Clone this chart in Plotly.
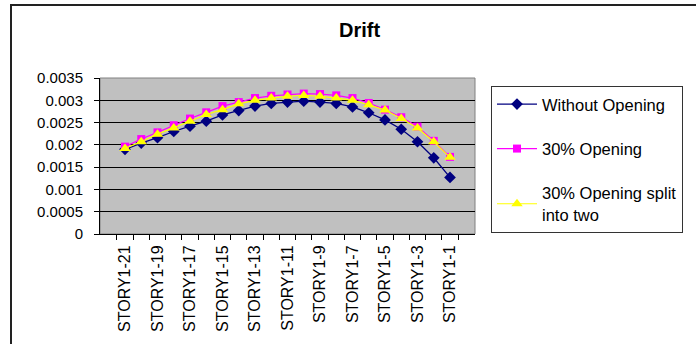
import plotly.graph_objects as go

categories = ["STORY1-%d" % n for n in range(21, 0, -1)]
tick_labels = [c if i % 2 == 0 else "" for i, c in enumerate(categories)]

without_opening = [0.00190, 0.00204, 0.00216, 0.00230, 0.00242, 0.00253, 0.00267,
                   0.00277, 0.00287, 0.00293, 0.00296, 0.00298, 0.00296, 0.00293,
                   0.00285, 0.00272, 0.00256, 0.00235, 0.00207, 0.00171, 0.00127]
opening_30 = [0.00196, 0.00213, 0.00228, 0.00244, 0.00259, 0.00273, 0.00287,
              0.00296, 0.00305, 0.00310, 0.00313, 0.00315, 0.00314, 0.00311,
              0.00305, 0.00294, 0.00279, 0.00262, 0.00241, 0.00209, 0.00173]
opening_30_split = [0.00192, 0.00207, 0.00224, 0.00238, 0.00253, 0.00268, 0.00279,
                    0.00292, 0.00300, 0.00305, 0.00309, 0.00311, 0.00309, 0.00305,
                    0.00300, 0.00290, 0.00278, 0.00259, 0.00238, 0.00207, 0.00172]

y_tickvals = [0, 0.0005, 0.001, 0.0015, 0.002, 0.0025, 0.003, 0.0035]
y_ticktext = ["0", "0.0005", "0.001", "0.0015", "0.002", "0.0025", "0.003", "0.0035"]

FONT = "Liberation Sans, Arial, sans-serif"

fig = go.Figure()
fig.add_trace(go.Scatter(
    x=categories, y=without_opening, name="Without Opening", mode="lines+markers",
    line=dict(color="#000080", width=1.3),
    marker=dict(symbol="diamond", size=9, color="#000080"),
    legendgroup="a"))
fig.add_trace(go.Scatter(
    x=categories, y=opening_30, name="30% Opening", mode="lines+markers",
    line=dict(color="#FF00FF", width=1.2),
    marker=dict(symbol="square", size=8, color="#FF00FF"),
    legendgroup="b"))
fig.add_trace(go.Scatter(
    x=categories, y=opening_30_split, name="30% Opening split<br>into two", mode="lines+markers",
    line=dict(color="#FFFF00", width=1.2),
    marker=dict(symbol="triangle-up", size=10, color="#FFFF00"),
    legendgroup="c"))

L, R, T, B = 100, 221, 78, 108
W, H = 696, 344
pw, ph = W - L - R, H - T - B

def px_x(p):
    return (p - L) / pw

def px_y(p):
    return (H - B - p) / ph

fig.update_layout(
    width=W, height=H,
    margin=dict(l=L, r=R, t=T, b=B, pad=0),
    paper_bgcolor="white",
    plot_bgcolor="#C0C0C0",
    font=dict(family=FONT, color="black"),
    showlegend=True,
    legend=dict(
        x=px_x(491), y=px_y(86), xanchor="left", yanchor="top",
        bgcolor="white", bordercolor="#333333", borderwidth=1,
        font=dict(size=16.5, family=FONT, color="black"),
        tracegroupgap=20, itemwidth=40,
    ),
    annotations=[dict(
        text="<b>Drift</b>", x=px_x(359), y=px_y(29), xref="paper", yref="paper",
        xanchor="center", yanchor="middle", showarrow=False,
        font=dict(size=20, family=FONT, color="black"))],
    shapes=[dict(
        type="rect", xref="paper", yref="paper",
        x0=px_x(11), x1=px_x(720), y0=px_y(360), y1=px_y(4),
        line=dict(color="#222222", width=2), fillcolor="rgba(0,0,0,0)", layer="below")],
)

fig.update_xaxes(
    type="category",
    tickmode="array", tickvals=categories, ticktext=tick_labels,
    tickangle=-90, tickson="boundaries",
    ticks="outside", ticklen=5, tickcolor="black", tickwidth=1,
    showline=True, linecolor="black", linewidth=1,
    showgrid=False, mirror=False,
    tickfont=dict(size=16, family=FONT, color="black"),
    ticklabelstandoff=4,
)
fig.update_yaxes(
    range=[0, 0.0035],
    tickmode="array", tickvals=y_tickvals, ticktext=y_ticktext,
    ticks="outside", ticklen=5, tickcolor="black", tickwidth=1,
    showline=True, linecolor="black", linewidth=1,
    showgrid=True, gridcolor="black", gridwidth=1,
    zeroline=False,
    tickfont=dict(size=15, family=FONT, color="black"),
    ticklabelstandoff=8,
)
fig.add_shape(type="rect", xref="paper", yref="paper", x0=0, x1=1, y0=0, y1=1,
              line=dict(color="#808080", width=1), layer="below")

fig.write_html("out.html")
